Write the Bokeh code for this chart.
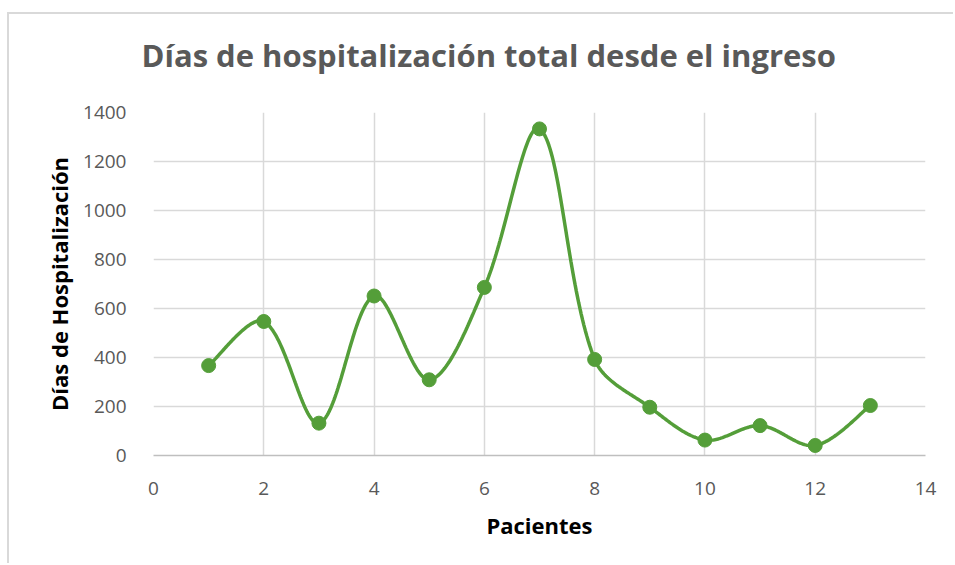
import numpy as np
from bokeh.plotting import figure
from bokeh.models import Range1d, FixedTicker, Title
from bokeh.embed import file_html
from bokeh.resources import INLINE

pacientes = [1, 2, 3, 4, 5, 6, 7, 8, 9, 10, 11, 12, 13]
dias = [367, 547, 132, 651, 309, 686, 1333, 392, 197, 63, 122, 41, 204]
x_ticks = [0, 2, 4, 6, 8, 10, 12, 14]
y_ticks = [0, 200, 400, 600, 800, 1000, 1200, 1400]
title_text = "Días de hospitalización total desde el ingreso"
x_label = "Pacientes"
y_label = "Días de Hospitalización"

GREEN = "#549e39"
GRID = "#d9d9d9"
TXT = "#595959"
FONT = "Open Sans"

W, H = 946, 551
FL, FR, FT, FB = 144, 916, 98, 441
XMIN, XMAX, YMIN, YMAX = 0, 14, 0, 1400

# Excel-like smoothed line: cubic Bezier through the data points, tangent from
# neighbours, control-arm length weighted by segment lengths (in screen space)
def smooth(xs, ys, n=50):
    kx = (FR - FL) / (XMAX - XMIN)
    ky = (FB - FT) / (YMAX - YMIN)
    P = np.column_stack([np.asarray(xs, float) * kx, np.asarray(ys, float) * ky])
    m = len(P)
    L = np.linalg.norm(np.diff(P, axis=0), axis=1)
    out = []
    for i in range(m - 1):
        p1, p2 = P[i], P[i + 1]
        if i == 0:
            c1 = p1 + (p2 - p1) / 6.0
        else:
            T = P[i + 1] - P[i - 1]
            c1 = p1 + T * L[i] / (L[i - 1] + L[i]) / 3.0
        if i + 2 >= m:
            c2 = p2 - (p2 - p1) / 6.0
        else:
            T = P[i + 2] - P[i]
            c2 = p2 - T * L[i] / (L[i] + L[i + 1]) / 3.0
        t = np.linspace(0, 1, n)[:, None]
        seg = ((1 - t) ** 3) * p1 + 3 * ((1 - t) ** 2) * t * c1 + 3 * (1 - t) * t ** 2 * c2 + t ** 3 * p2
        out.append(seg if i == 0 else seg[1:])
    arr = np.vstack(out)
    return arr[:, 0] / kx, arr[:, 1] / ky

sx, sy = smooth(pacientes, dias)

p = figure(width=W, height=H, output_backend="svg", toolbar_location=None,
           x_range=Range1d(XMIN, XMAX), y_range=Range1d(YMIN, YMAX), title=None,
           min_border_left=FL, min_border_right=W - FR,
           min_border_top=FT, min_border_bottom=H - FB)
p.styles = {"border-top": "2px solid #d9d9d9", "border-left": "2px solid #d9d9d9",
            "margin-top": "12px", "margin-left": "7px"}
p.outline_line_color = None
p.background_fill_color = "white"
p.border_fill_color = "white"

p.line(sx, sy, line_color=GREEN, line_width=3.5)
p.scatter(pacientes, dias, size=14, fill_color=GREEN, line_color=GREEN)

p.xaxis.ticker = FixedTicker(ticks=x_ticks)
p.yaxis.ticker = FixedTicker(ticks=y_ticks)
for ax in (p.xaxis, p.yaxis):
    ax.major_tick_line_color = None
    ax.minor_tick_line_color = None
    ax.major_label_text_font = FONT
    ax.major_label_text_font_size = "19px"
    ax.major_label_text_color = TXT
    ax.axis_label_text_font = FONT
    ax.axis_label_text_font_size = "22px"
    ax.axis_label_text_font_style = "bold"
    ax.axis_label_text_color = "black"
p.yaxis.axis_line_color = None
p.xaxis.axis_line_color = "#bfbfbf"
p.xaxis.axis_line_width = 1.5
p.xaxis.axis_label = x_label
p.yaxis.axis_label = y_label
p.yaxis.major_label_standoff = 21
p.xaxis.major_label_standoff = 20
p.yaxis.axis_label_standoff = 6
p.xaxis.axis_label_standoff = 12

p.xgrid.ticker = FixedTicker(ticks=x_ticks)
p.ygrid.ticker = FixedTicker(ticks=y_ticks)
for g in (p.xgrid, p.ygrid):
    g.grid_line_color = GRID
    g.grid_line_width = 1.5

# spacer between frame and title, then the title itself
p.add_layout(Title(text=" ", text_font_size="1px", standoff=34), "above")
p.add_layout(Title(text=title_text, text_font=FONT, text_font_style="bold",
                   text_font_size="31px", text_color=TXT, align="left",
                   offset=-12, standoff=0, vertical_align="bottom"), "above")

open("out.html", "w").write(file_html(p, INLINE))
